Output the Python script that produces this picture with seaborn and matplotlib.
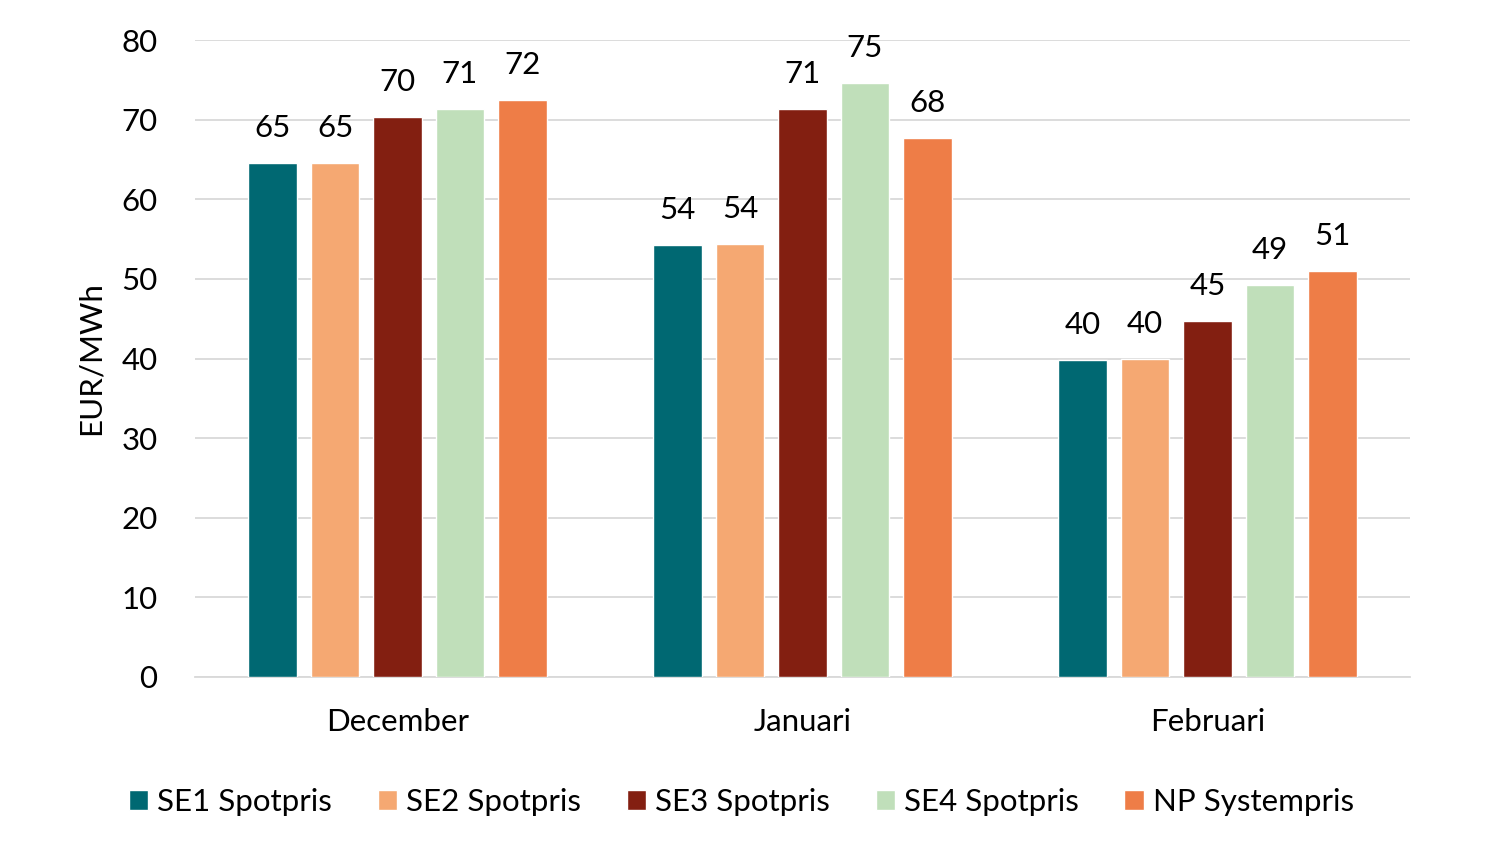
import pandas as pd
import matplotlib.pyplot as plt
import seaborn as sns
from matplotlib.patches import Patch

# Data
manader = ["December", "Januari", "Februari"]
serier = ["SE1 Spotpris", "SE2 Spotpris", "SE3 Spotpris", "SE4 Spotpris", "NP Systempris"]
se1 = [64.6, 54.3, 39.8]
se2 = [64.6, 54.4, 39.9]
se3 = [70.3, 71.3, 44.7]
se4 = [71.3, 74.6, 49.2]
np_sys = [72.5, 67.7, 51.0]
farger = ["#006872", "#F5A872", "#831F11", "#C0DFBA", "#EE7D47"]

rows = []
for namn, vals in zip(serier, [se1, se2, se3, se4, np_sys]):
    for m, v in zip(manader, vals):
        rows.append({"Månad": m, "Serie": namn, "Pris": v})
df = pd.DataFrame(rows)

sns.set_style("white")
plt.rcParams['font.family'] = ['Lato', 'DejaVu Sans']
plt.rcParams['text.color'] = 'black'
plt.rcParams['axes.labelcolor'] = 'black'

fs = 22.5

fig = plt.figure(figsize=(15.01, 8.52), dpi=100)
ax = fig.add_axes([195/1501, 1 - 677/852, 1215/1501, 637/852])

sns.barplot(data=df, x="Månad", y="Pris", hue="Serie", order=manader,
            hue_order=serier, palette=farger, width=0.77, gap=0.22,
            saturation=1, ax=ax, legend=False, zorder=3)

for cont in ax.containers:
    ax.bar_label(cont, labels=[f"{v:.0f}" for v in cont.datavalues],
                 padding=15, fontsize=fs, color="black")

ax.set_ylim(0, 80)
ax.set_yticks(range(0, 81, 10))
ax.set_xlim(-0.5, 2.5)
ax.yaxis.grid(True, color="#D9D9D9", linewidth=1.3, zorder=0)
ax.set_axisbelow(True)
for s in ["top", "right", "left"]:
    ax.spines[s].set_visible(False)
ax.spines["bottom"].set_color("#D9D9D9")
ax.spines["bottom"].set_linewidth(1.3)
ax.tick_params(axis="both", length=0, labelsize=fs, colors="black")
ax.tick_params(axis="x", pad=22)
ax.tick_params(axis="y", pad=27)
ax.set_xlabel("")
ax.set_ylabel("EUR/MWh", fontsize=fs, labelpad=12)

handles = [Patch(facecolor=c, label=s) for c, s in zip(farger, serier)]
fig.legend(handles=handles, loc="center", bbox_to_anchor=(0.494, 1 - 802/852),
           ncol=5, frameon=False, fontsize=fs, handlelength=0.62,
           handleheight=0.62, handletextpad=0.3, columnspacing=1.45)

fig.savefig("out.png", dpi=100)
